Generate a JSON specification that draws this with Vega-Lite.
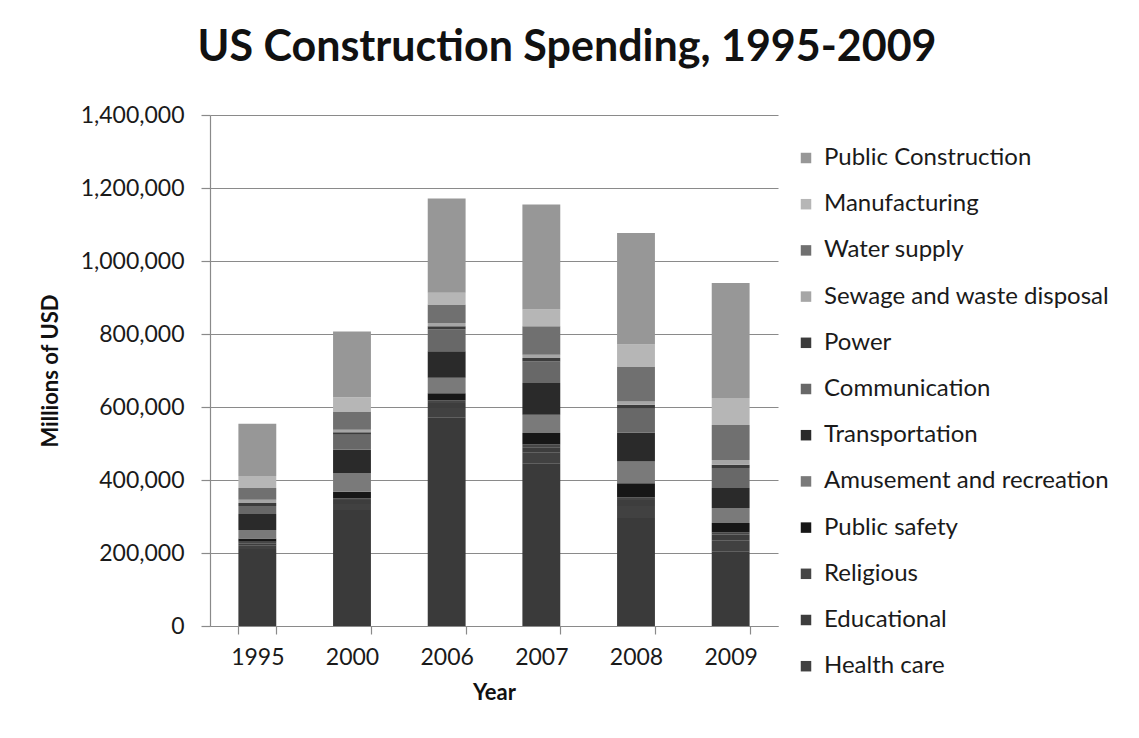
{
  "$schema": "https://vega.github.io/schema/vega-lite/v6.json",
  "autosize": {"type": "none"},
  "width": 568,
  "height": 511,
  "padding": {"left": 210, "top": 115, "right": 361, "bottom": 112},
  "background": "white",
  "title": {
    "text": "US Construction Spending, 1995-2009",
    "font": "Lato",
    "fontSize": 43,
    "fontWeight": "bold",
    "color": "#111111",
    "anchor": "middle",
    "frame": "group",
    "dx": 73,
    "offset": 34
  },
  "data": {
    "values": [
      {"year": "1995", "category": "Residential", "spending": 211000},
      {"year": "1995", "category": "Health care", "spending": 9000},
      {"year": "1995", "category": "Educational", "spending": 7000},
      {"year": "1995", "category": "Religious", "spending": 4000},
      {"year": "1995", "category": "Public safety", "spending": 9000},
      {"year": "1995", "category": "Amusement and recreation", "spending": 23000},
      {"year": "1995", "category": "Transportation", "spending": 44000},
      {"year": "1995", "category": "Communication", "spending": 22000},
      {"year": "1995", "category": "Power", "spending": 8000},
      {"year": "1995", "category": "Sewage and waste disposal", "spending": 9000},
      {"year": "1995", "category": "Water supply", "spending": 32000},
      {"year": "1995", "category": "Manufacturing", "spending": 33000},
      {"year": "1995", "category": "Public Construction", "spending": 143000},

      {"year": "2000", "category": "Residential", "spending": 318000},
      {"year": "2000", "category": "Health care", "spending": 16000},
      {"year": "2000", "category": "Educational", "spending": 11000},
      {"year": "2000", "category": "Religious", "spending": 5000},
      {"year": "2000", "category": "Public safety", "spending": 18000},
      {"year": "2000", "category": "Amusement and recreation", "spending": 51000},
      {"year": "2000", "category": "Transportation", "spending": 64000},
      {"year": "2000", "category": "Communication", "spending": 41000},
      {"year": "2000", "category": "Power", "spending": 7000},
      {"year": "2000", "category": "Sewage and waste disposal", "spending": 7000},
      {"year": "2000", "category": "Water supply", "spending": 50000},
      {"year": "2000", "category": "Manufacturing", "spending": 39000},
      {"year": "2000", "category": "Public Construction", "spending": 180000},

      {"year": "2006", "category": "Residential", "spending": 572000},
      {"year": "2006", "category": "Health care", "spending": 25000},
      {"year": "2006", "category": "Educational", "spending": 14000},
      {"year": "2006", "category": "Religious", "spending": 7000},
      {"year": "2006", "category": "Public safety", "spending": 20000},
      {"year": "2006", "category": "Amusement and recreation", "spending": 42000},
      {"year": "2006", "category": "Transportation", "spending": 73000},
      {"year": "2006", "category": "Communication", "spending": 59000},
      {"year": "2006", "category": "Power", "spending": 9000},
      {"year": "2006", "category": "Sewage and waste disposal", "spending": 9000},
      {"year": "2006", "category": "Water supply", "spending": 51000},
      {"year": "2006", "category": "Manufacturing", "spending": 32000},
      {"year": "2006", "category": "Public Construction", "spending": 258000},

      {"year": "2007", "category": "Residential", "spending": 446000},
      {"year": "2007", "category": "Health care", "spending": 29000},
      {"year": "2007", "category": "Educational", "spending": 15000},
      {"year": "2007", "category": "Religious", "spending": 7000},
      {"year": "2007", "category": "Public safety", "spending": 32000},
      {"year": "2007", "category": "Amusement and recreation", "spending": 50000},
      {"year": "2007", "category": "Transportation", "spending": 87000},
      {"year": "2007", "category": "Communication", "spending": 59000},
      {"year": "2007", "category": "Power", "spending": 9000},
      {"year": "2007", "category": "Sewage and waste disposal", "spending": 9000},
      {"year": "2007", "category": "Water supply", "spending": 78000},
      {"year": "2007", "category": "Manufacturing", "spending": 46000},
      {"year": "2007", "category": "Public Construction", "spending": 288000},

      {"year": "2008", "category": "Residential", "spending": 296000},
      {"year": "2008", "category": "Health care", "spending": 33000},
      {"year": "2008", "category": "Educational", "spending": 16000},
      {"year": "2008", "category": "Religious", "spending": 7000},
      {"year": "2008", "category": "Public safety", "spending": 39000},
      {"year": "2008", "category": "Amusement and recreation", "spending": 60000},
      {"year": "2008", "category": "Transportation", "spending": 79000},
      {"year": "2008", "category": "Communication", "spending": 65000},
      {"year": "2008", "category": "Power", "spending": 11000},
      {"year": "2008", "category": "Sewage and waste disposal", "spending": 9000},
      {"year": "2008", "category": "Water supply", "spending": 96000},
      {"year": "2008", "category": "Manufacturing", "spending": 60000},
      {"year": "2008", "category": "Public Construction", "spending": 306000},

      {"year": "2009", "category": "Residential", "spending": 205000},
      {"year": "2009", "category": "Health care", "spending": 30000},
      {"year": "2009", "category": "Educational", "spending": 15000},
      {"year": "2009", "category": "Religious", "spending": 6000},
      {"year": "2009", "category": "Public safety", "spending": 26000},
      {"year": "2009", "category": "Amusement and recreation", "spending": 41000},
      {"year": "2009", "category": "Transportation", "spending": 55000},
      {"year": "2009", "category": "Communication", "spending": 55000},
      {"year": "2009", "category": "Power", "spending": 9000},
      {"year": "2009", "category": "Sewage and waste disposal", "spending": 13000},
      {"year": "2009", "category": "Water supply", "spending": 96000},
      {"year": "2009", "category": "Manufacturing", "spending": 74000},
      {"year": "2009", "category": "Public Construction", "spending": 315000}
    ]
  },
  "transform": [
    {"calculate": "indexof(['Residential', 'Health care', 'Educational', 'Religious', 'Public safety', 'Amusement and recreation', 'Transportation', 'Communication', 'Power', 'Sewage and waste disposal', 'Water supply', 'Manufacturing', 'Public Construction'], datum.category)", "as": "stackOrder"}
  ],
  "mark": {"type": "bar"},
  "encoding": {
    "x": {
      "field": "year",
      "type": "nominal",
      "scale": {"paddingInner": 0.6, "paddingOuter": 0.3},
      "axis": {
        "title": "Year",
        "labelAngle": 0,
        "tickBand": "extent",
        "tickSize": 8,
        "tickColor": "#8a8a8a",
        "domainColor": "#8a8a8a",
        "labelPadding": 12,
        "labelFont": "Lato",
        "labelFontSize": 23,
        "labelColor": "#1a1a1a",
        "titleFont": "Lato",
        "titleFontSize": 22,
        "titleFontWeight": "bold",
        "titleColor": "#111111",
        "titlePadding": 13
      }
    },
    "y": {
      "field": "spending",
      "type": "quantitative",
      "stack": "zero",
      "scale": {"domain": [0, 1400000], "nice": false},
      "axis": {
        "title": "Millions of USD",
        "values": [0, 200000, 400000, 600000, 800000, 1000000, 1200000, 1400000],
        "format": ",d",
        "grid": true,
        "gridColor": "#8a8a8a",
        "gridWidth": 1.2,
        "tickSize": 9,
        "tickColor": "#8a8a8a",
        "domainColor": "#8a8a8a",
        "labelPadding": 17,
        "labelFont": "Lato",
        "labelFontSize": 23,
        "labelColor": "#1a1a1a",
        "titleFont": "Lato",
        "titleFontSize": 22,
        "titleFontWeight": "bold",
        "titleColor": "#111111",
        "titlePadding": 18
      }
    },
    "order": {"field": "stackOrder", "type": "quantitative", "sort": "ascending"},
    "color": {
      "field": "category",
      "type": "nominal",
      "scale": {
        "domain": ["Public Construction", "Manufacturing", "Water supply", "Sewage and waste disposal", "Power", "Communication", "Transportation", "Amusement and recreation", "Public safety", "Religious", "Educational", "Health care", "Residential"],
        "range": ["#979797", "#b6b6b6", "#707070", "#a6a6a6", "#3c3c3c", "#686868", "#2a2a2a", "#7a7a7a", "#171717", "#464646", "#3d3d3d", "#414141", "#3a3a3a"]
      },
      "legend": {
        "title": null,
        "orient": "none",
        "legendX": 584,
        "legendY": 31,
        "values": ["Public Construction", "Manufacturing", "Water supply", "Sewage and waste disposal", "Power", "Communication", "Transportation", "Amusement and recreation", "Public safety", "Religious", "Educational", "Health care"],
        "symbolType": "square",
        "symbolSize": 110,
        "symbolStrokeWidth": 0,
        "labelFont": "Lato",
        "labelFontSize": 24,
        "labelColor": "#1a1a1a",
        "labelOffset": 6,
        "rowPadding": 22.2,
        "labelLimit": 400
      }
    }
  },
  "config": {
    "view": {"stroke": null},
    "axis": {"domainWidth": 1.2, "tickWidth": 1.2}
  }
}
